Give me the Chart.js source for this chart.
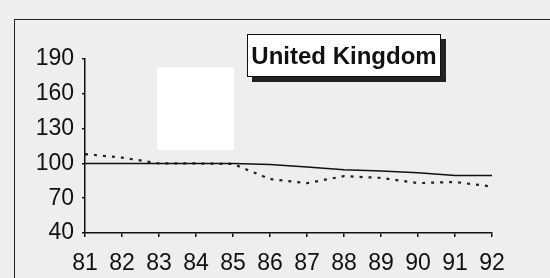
<!DOCTYPE html>
<html>
<head>
<meta charset="utf-8">
<script src="https://cdn.jsdelivr.net/npm/chart.js@4"></script>
<style>
  html, body { margin: 0; padding: 0; background: #eeeeee; }
  #wrap { position: relative; width: 550px; height: 278px; overflow: hidden; background: #eeeeee; }
  #frame { position: absolute; left: 14px; top: 19px; width: 600px; height: 300px; border-left: 1.5px solid #222; border-top: 1.5px solid #222; }
  #blank { position: absolute; left: 157px; top: 67px; width: 77px; height: 83px; background: #ffffff; }
  #title { position: absolute; left: 247px; top: 34px; width: 192px; height: 41px; background: #fff; border: 1.5px solid #111;
    box-shadow: 5px 5px 0 #222; font: bold 24px "Liberation Sans", Arial, sans-serif; color: #111; line-height: 41px; text-align: center; }
  canvas { position: absolute; left: 0; top: 0; }
</style>
</head>
<body>
<div id="wrap">
  <div id="frame"></div>
  <canvas id="chart" width="550" height="278"></canvas>
  <div id="blank"></div>
  <div id="title">United Kingdom</div>
</div>
<script>
// Data
const years = ['81', '82', '83', '84', '85', '86', '87', '88', '89', '90', '91', '92'];
const solidSeries = [100, 100, 100, 100, 100, 99, 97, 94.5, 93.5, 92, 89.5, 89.5];
const dottedSeries = [108, 105, 100, 100, 99.5, 86.5, 83, 89, 87.5, 83, 84, 80];
const yTicks = [40, 70, 100, 130, 160, 190];

const ctx = document.getElementById('chart').getContext('2d');
const font = { family: '"Liberation Sans", Arial, sans-serif', size: 23 };

new Chart(ctx, {
  type: 'line',
  data: {
    labels: years,
    datasets: [
      {
        label: 'solid',
        data: solidSeries,
        borderColor: '#111',
        borderWidth: 1.5,
        pointRadius: 0,
        tension: 0
      },
      {
        label: 'dotted',
        data: dottedSeries,
        borderColor: '#222',
        borderWidth: 2.2,
        borderDash: [3, 6],
        pointRadius: 0,
        tension: 0
      }
    ]
  },
  options: {
    responsive: false,
    animation: false,
    layout: { padding: { top: 59, right: 58, left: 0, bottom: 0 } },
    plugins: { legend: { display: false }, tooltip: { enabled: false } },
    scales: {
      x: {
        offset: false,
        grid: { drawOnChartArea: false, tickLength: 4, color: '#111', lineWidth: 1.5 },
        border: { color: '#111', width: 1.5 },
        ticks: { color: '#111', font: font, padding: 13, maxRotation: 0, autoSkip: false },
        afterFit: (scale) => { scale.height = 45; }
      },
      y: {
        min: 40,
        max: 190,
        grid: { drawOnChartArea: false, tickLength: 3, color: '#111', lineWidth: 1.5 },
        border: { color: '#111', width: 1.5 },
        afterBuildTicks: (scale) => { scale.ticks = yTicks.map(v => ({ value: v })); },
        ticks: { color: '#111', font: font, padding: 8 },
        afterFit: (scale) => { scale.width = 85; }
      }
    }
  }
});
</script>
</body>
</html>
